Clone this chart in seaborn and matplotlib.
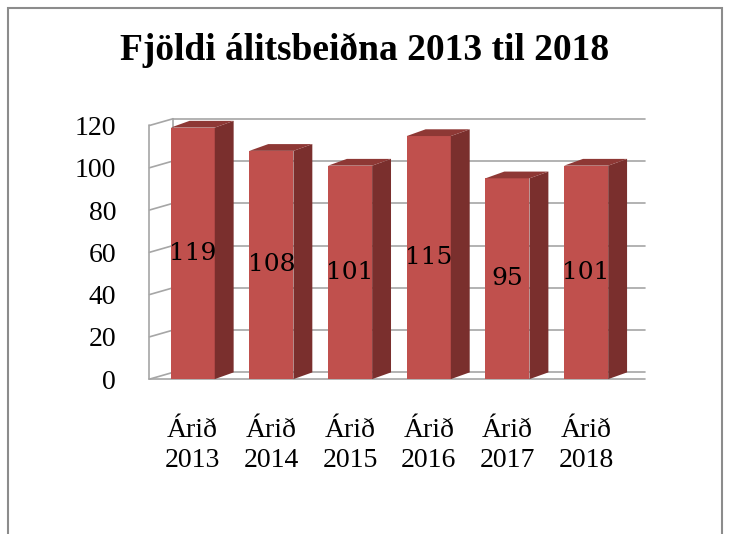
import matplotlib
matplotlib.use("Agg")
import matplotlib.pyplot as plt
import seaborn as sns
from matplotlib.patches import Polygon, Rectangle

years = ["2013", "2014", "2015", "2016", "2017", "2018"]
categories = ["Árið\n" + y for y in years]
values = [119, 108, 101, 115, 95, 101]
yticks = [0, 20, 40, 60, 80, 100, 120]
title = "Fjöldi álitsbeiðna 2013 til 2018"

sns.set_theme(style="white")
plt.rcParams["font.family"] = ["Liberation Serif", "DejaVu Serif"]
plt.rcParams["text.color"] = "black"
plt.rcParams["xtick.color"] = "black"
plt.rcParams["ytick.color"] = "black"

front = "#C0504D"
side = "#7A2F2D"
top = "#8E3835"
grid = "#A6A6A6"

fig = plt.figure(figsize=(7.29, 5.34), dpi=100)
ax = fig.add_axes([0.205, 0.29, 0.68, 0.475])

sns.barplot(x=categories, y=values, color=front, width=0.56,
            saturation=1, ax=ax, zorder=3, linewidth=0, edgecolor="none")

ax.set_ylim(0, 120)
ax.set_xlim(-0.55, 5.75)
ax.set_yticks(yticks)
ax.set_yticklabels([str(t) for t in yticks], fontsize=20, color="black")
ax.tick_params(axis="y", length=0, pad=24)
ax.tick_params(axis="x", length=0, pad=28, labelsize=20, labelcolor="black")
for lbl in ax.get_xticklabels():
    lbl.set_linespacing(1.25)
ax.set_xlabel("")
ax.set_ylabel("")
for s in ax.spines.values():
    s.set_visible(False)
ax.grid(False)

# depth of pseudo-3D
dx, dy = 0.24, 3.2
wx = -0.55 + 0.3
for t in yticks:
    ax.plot([-0.55, wx], [t, t + dy], color=grid, lw=1.2, zorder=1, clip_on=False)
    ax.plot([wx, 5.75], [t + dy, t + dy], color=grid, lw=1.2, zorder=1, clip_on=False)
ax.plot([-0.55, -0.55], [0, 120], color=grid, lw=1.2, zorder=1, clip_on=False)
ax.plot([wx, wx], [dy, 120 + dy], color=grid, lw=1.2, zorder=1, clip_on=False)
ax.plot([-0.55, 5.75], [0, 0], color=grid, lw=1.2, zorder=1, clip_on=False)

for bar, v in zip(ax.patches, values):
    x0 = bar.get_x()
    x1 = x0 + bar.get_width()
    h = bar.get_height()
    ax.add_patch(Polygon([(x1, 0), (x1 + dx, dy), (x1 + dx, h + dy), (x1, h)],
                         closed=True, facecolor=side, edgecolor="none", zorder=3, clip_on=False))
    ax.add_patch(Polygon([(x0, h), (x0 + dx, h + dy), (x1 + dx, h + dy), (x1, h)],
                         closed=True, facecolor=top, edgecolor="none", zorder=3, clip_on=False))
    ax.text(bar.get_x() + bar.get_width() / 2, h / 2, str(v), ha="center", va="center",
            fontsize=18, color="black", zorder=5, family=["DejaVu Serif"])

fig.text(0.5, 0.905, title, ha="center", va="center", fontsize=27, fontweight="bold",
         color="black")

fig.patches.append(Rectangle((8 / 729, -0.1), (722 - 8) / 729, 1.1 - 8 / 534,
                             transform=fig.transFigure, fill=False,
                             edgecolor="#8C8C8C", lw=1.5, zorder=0))

fig.savefig("out.png", dpi=100, facecolor="white")
